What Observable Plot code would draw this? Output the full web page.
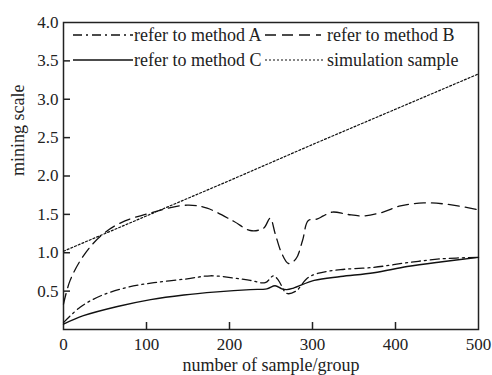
<!DOCTYPE html>
<html>
<head>
<meta charset="utf-8">
<script src="https://cdn.jsdelivr.net/npm/d3@7"></script>
<script src="https://cdn.jsdelivr.net/npm/@observablehq/plot@0.6"></script>
<style>
  html, body { margin: 0; padding: 0; background: #fff; }
  #wrap { position: relative; width: 492px; height: 375px; font-family: "Liberation Serif", Tinos, "Times New Roman", Times, "DejaVu Serif", serif; }
  #wrap svg text { font-family: "Liberation Serif", Tinos, "Times New Roman", Times, "DejaVu Serif", serif; }
  .leg { position: absolute; font-size: 18px; color: #222; white-space: nowrap; line-height: 18px; }
  .legsvg { position: absolute; }
</style>
</head>
<body>
<div id="wrap"></div>
<script>
// ---- data ----
const xTicks = [0, 100, 200, 300, 400, 500];
const yTicks = [0.5, 1.0, 1.5, 2.0, 2.5, 3.0, 3.5, 4.0];

const seriesNames = ["refer to method A", "refer to method B", "refer to method C", "simulation sample"];

const methodAx = [0, 20, 45, 77, 109, 149, 177, 205, 225, 243, 253, 259, 269, 280, 294, 306, 334, 374, 414, 454, 500];
const methodAy = [0.09, 0.29, 0.44, 0.55, 0.61, 0.66, 0.70, 0.67, 0.64, 0.61, 0.70, 0.64, 0.47, 0.50, 0.67, 0.73, 0.78, 0.81, 0.87, 0.92, 0.94];

const methodBx = [0, 8, 24, 45, 69, 105, 149, 173, 205, 225, 241, 249, 255, 263, 271, 280, 288, 295, 306, 313, 324, 342, 361, 382, 406, 434, 463, 500];
const methodBy = [0.33, 0.64, 0.96, 1.22, 1.39, 1.52, 1.62, 1.58, 1.41, 1.29, 1.32, 1.45, 1.25, 0.99, 0.86, 0.92, 1.16, 1.42, 1.44, 1.48, 1.53, 1.50, 1.48, 1.52, 1.61, 1.65, 1.63, 1.56];

const methodCx = [0, 24, 65, 105, 145, 185, 225, 245, 255, 263, 269, 277, 302, 334, 374, 414, 454, 500];
const methodCy = [0.07, 0.18, 0.30, 0.39, 0.45, 0.49, 0.52, 0.53, 0.57, 0.53, 0.52, 0.54, 0.64, 0.69, 0.74, 0.82, 0.88, 0.94];

const simX = [0, 100, 200, 300, 400, 500];
const simY = [1.02, 1.48, 1.94, 2.41, 2.87, 3.33];

const toRows = (xs, ys, name) => xs.map((x, i) => ({x, y: ys[i], series: name}));
const dataA = toRows(methodAx, methodAy, seriesNames[0]);
const dataB = toRows(methodBx, methodBy, seriesNames[1]);
const dataC = toRows(methodCx, methodCy, seriesNames[2]);
const dataS = toRows(simX, simY, seriesNames[3]);

const styles = {
  A: {stroke: "#111", strokeWidth: 1.3, strokeDasharray: "9,4,2,4"},
  B: {stroke: "#111", strokeWidth: 1.3, strokeDasharray: "11,6"},
  C: {stroke: "#111", strokeWidth: 1.4},
  S: {stroke: "#111", strokeWidth: 1.2, strokeDasharray: "2,2"}
};

const font = '"Liberation Serif", Tinos, "Times New Roman", Times, "DejaVu Serif", serif';

const chart = Plot.plot({
  width: 492,
  height: 375,
  marginLeft: 63,
  marginRight: 14,
  marginTop: 22,
  marginBottom: 46,
  style: {fontFamily: font, fontSize: "17px", color: "#222", background: "#fff"},
  x: {domain: [0, 500]},
  y: {domain: [0, 4]},
  marks: [
    Plot.frame({stroke: "#222", strokeWidth: 1.5}),
    // tick labels
    Plot.axisX({ticks: xTicks, tickSize: 0, tickPadding: 8, tickFormat: d => String(d), label: null, fontSize: 17}),
    Plot.axisY({ticks: yTicks, tickSize: 0, tickPadding: 5, tickFormat: d => d.toFixed(1), label: null, fontSize: 17}),
    // inward ticks
    Plot.axisX({ticks: xTicks.slice(1, -1), tickSize: 7, dy: -7, text: null, label: null, stroke: "#222", strokeWidth: 1.5}),
    Plot.axisY({ticks: yTicks.slice(0, -1), tickSize: 7, dx: 7, text: null, label: null, stroke: "#222", strokeWidth: 1.5}),
    Plot.lineY(dataS, {x: "x", y: "y", ...styles.S}),
    Plot.lineY(dataB, {x: "x", y: "y", curve: "catmull-rom", ...styles.B}),
    Plot.lineY(dataA, {x: "x", y: "y", curve: "catmull-rom", ...styles.A}),
    Plot.lineY(dataC, {x: "x", y: "y", curve: "catmull-rom", ...styles.C}),
    Plot.text(["number of sample/group"], {frameAnchor: "bottom", dy: 36, text: d => d, fontSize: 18, fill: "#222", lineAnchor: "middle"}),
    Plot.text(["mining scale"], {frameAnchor: "left", dx: -45, rotate: -90, text: d => d, fontSize: 18, fill: "#222"})
  ]
});

const wrap = document.getElementById("wrap");
wrap.appendChild(chart);

// legend (HTML overlay inside the plot area)
const legendItems = [
  {name: seriesNames[0], st: styles.A, x1: 73, x2: 133, tx: 134, y: 35},
  {name: seriesNames[1], st: styles.B, x1: 265, x2: 321, tx: 327, y: 35},
  {name: seriesNames[2], st: styles.C, x1: 73, x2: 133, tx: 134, y: 60},
  {name: seriesNames[3], st: styles.S, x1: 265, x2: 324, tx: 327, y: 60}
];
for (const it of legendItems) {
  const s = d3.create("svg").attr("class", "legsvg")
    .attr("width", it.x2 - it.x1).attr("height", 6)
    .style("left", it.x1 + "px").style("top", (it.y - 3) + "px");
  s.append("line").attr("x1", 0).attr("x2", it.x2 - it.x1).attr("y1", 3).attr("y2", 3)
    .attr("stroke", it.st.stroke).attr("stroke-width", it.st.strokeWidth)
    .attr("stroke-dasharray", it.st.strokeDasharray || null);
  wrap.appendChild(s.node());
  const t = document.createElement("div");
  t.className = "leg";
  t.textContent = it.name;
  t.style.left = it.tx + "px";
  t.style.top = (it.y - 9) + "px";
  wrap.appendChild(t);
}
</script>
</body>
</html>
